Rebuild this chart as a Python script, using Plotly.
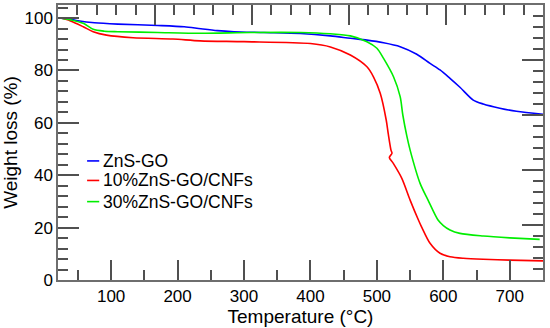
import plotly.graph_objects as go

series_names = ["ZnS-GO", "10%ZnS-GO/CNFs", "30%ZnS-GO/CNFs"]
series_colors = ["#0000ff", "#ff0000", "#00ee00"]

zns_go_t = [25, 40, 50, 75, 110, 170, 210, 235, 260, 285, 330, 385, 430, 460, 485, 510,
            535, 560, 580, 595, 610, 625, 645, 660, 685, 710, 750]
zns_go_w = [100, 99.5, 99.0, 98.2, 97.7, 97.2, 96.7, 95.9, 95.2, 94.8, 94.5, 94.1, 93.2, 92.3,
            91.6, 90.6, 89.1, 86.2, 82.7, 80.2, 77.0, 73.6, 68.7, 67.2, 65.6, 64.4, 63.3]

cnf10_t = [25, 38, 58, 73, 93, 133, 193, 234, 300, 400, 430, 460, 485, 495, 505, 514, 517,
           521.2, 522.7, 518.7, 524.7, 537.5, 550, 562.5, 567, 580, 595, 610, 630, 660, 700, 750]
cnf10_w = [100, 99.0, 96.7, 94.8, 93.5, 92.5, 92.0, 91.3, 91.0, 90.3, 89.0, 85.9, 81.4, 77.5,
           71.3, 61.1, 56.0, 49.6, 48.4, 46.8, 44.5, 38.8, 30.5, 22.9, 20.4, 14.0, 10.2, 8.9,
           8.3, 7.9, 7.6, 7.3]

cnf30_t = [25, 40, 58, 73, 90, 110, 170, 235, 310, 385, 430, 460, 485, 500, 510, 525, 535,
           539, 545, 550, 565, 577, 592, 600, 610, 625, 660, 700, 745]
cnf30_w = [100, 99.3, 98.0, 95.7, 95.0, 94.8, 94.5, 94.2, 94.5, 94.5, 94.0, 93.2, 91.0, 88.5,
           84.6, 77.6, 70.0, 63.0, 55.0, 49.6, 36.9, 30.5, 22.9, 20.8, 19.1, 17.8, 16.8, 16.1,
           15.5]

x_ticks = [100, 200, 300, 400, 500, 600, 700]
y_ticks = [0, 20, 40, 60, 80, 100]

FONT = "Arial, Liberation Sans, sans-serif"
AX = "#6e6e6e"
TK = "#505050"

fig = go.Figure()
data = [(zns_go_t, zns_go_w), (cnf10_t, cnf10_w), (cnf30_t, cnf30_w)]
for (t, w), name, col in zip(data, series_names, series_colors):
    fig.add_trace(go.Scatter(x=t, y=w, mode="lines", name=name,
                             line=dict(color=col, width=1.6, shape="spline", smoothing=0.8),
                             showlegend=False))

# dummy trace for the secondary (top/right) tick axes
fig.add_trace(go.Scatter(x=[], y=[], xaxis="x2", yaxis="y2", showlegend=False))

fig.update_layout(
    width=550, height=328,
    margin=dict(l=58, r=7, t=5, b=48, autoexpand=False),
    paper_bgcolor="white", plot_bgcolor="white",
    font=dict(family=FONT, size=17, color="black"),
    xaxis=dict(range=[20, 750], tickvals=x_ticks, ticks="inside", ticklen=20, tickwidth=1.5,
               tickcolor=TK, showline=True, linecolor=AX, linewidth=1.5, mirror=True,
               showgrid=False, zeroline=False, automargin=False,
               minor=dict(dtick=50, tick0=0, ticks="inside", ticklen=10, tickwidth=1.5,
                          tickcolor=TK),
               title=dict(text="Temperature (°C)", font=dict(size=19), standoff=2),
               tickfont=dict(size=17)),
    yaxis=dict(range=[0, 105], tickvals=y_ticks, ticks="inside", ticklen=21, tickwidth=1.5,
               tickcolor=TK, showline=True, linecolor=AX, linewidth=1.5, mirror=True,
               showgrid=False, zeroline=False, automargin=False,
               minor=dict(dtick=4, tick0=0, ticks="inside", ticklen=10, tickwidth=1.5,
                          tickcolor=TK),
               title=dict(text="Weight loss (%)", font=dict(size=19), standoff=3),
               tickfont=dict(size=17)),
    xaxis2=dict(range=[0, 25], overlaying="x", side="top", anchor="y", dtick=5, tick0=0,
                ticks="inside", ticklen=20, tickwidth=1.5, tickcolor=TK, showticklabels=False,
                showline=False, showgrid=False, zeroline=False, automargin=False,
                minor=dict(dtick=1, ticks="inside", ticklen=10, tickwidth=1.5, tickcolor=TK)),
    yaxis2=dict(range=[0, 25], overlaying="y", side="right", anchor="x", dtick=5, tick0=0,
                ticks="inside", ticklen=21, tickwidth=1.5, tickcolor=TK, showticklabels=False,
                showline=False, showgrid=False, zeroline=False, automargin=False,
                minor=dict(dtick=1, ticks="inside", ticklen=10, tickwidth=1.5, tickcolor=TK)),
)

# legend drawn as short line swatches + text, matching the reference layout
leg_y = [0.433, 0.362, 0.285]
for name, col, yy in zip(series_names, series_colors, leg_y):
    fig.add_shape(type="line", xref="paper", yref="paper", x0=0.060, x1=0.085, y0=yy, y1=yy,
                  line=dict(color=col, width=1.6))
    fig.add_annotation(text=name, xref="paper", yref="paper", x=0.089, y=yy,
                       xanchor="left", yanchor="middle", showarrow=False,
                       font=dict(family=FONT, size=17.5, color="black"))

fig.write_html("out.html", config={"displayModeBar": False},
               post_script="document.body.style.margin='0';document.body.style.overflow='hidden';")
